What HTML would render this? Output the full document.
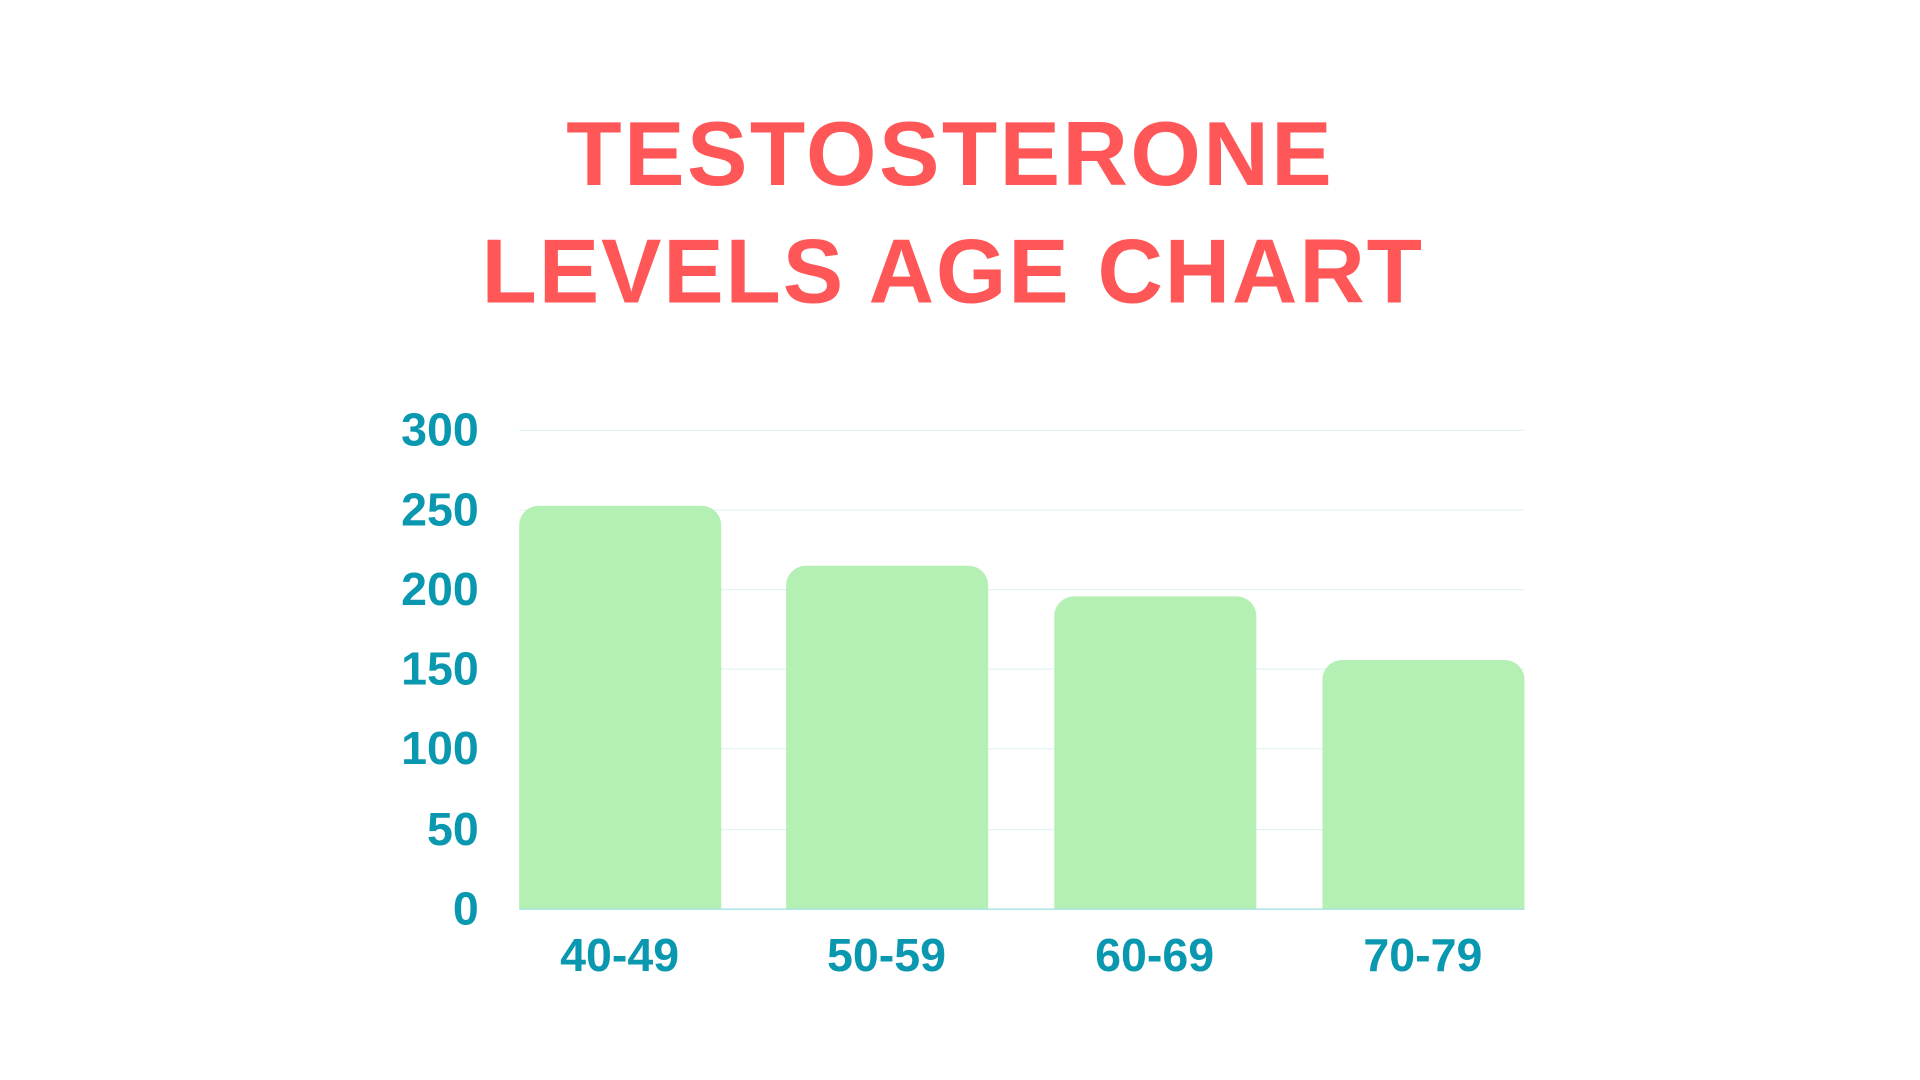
<!DOCTYPE html>
<html><head><meta charset="utf-8"><style>
html,body{margin:0;padding:0;background:#fff;width:1920px;height:1080px;overflow:hidden}
#s{position:absolute;left:0;top:0;width:1568px;height:882px;transform:scale(1.22449);transform-origin:0 0;font-family:"Liberation Sans",sans-serif}
.t{position:absolute;left:-8px;width:1568px;text-align:center;color:#ff5757;font-weight:bold;font-size:74px;line-height:1;letter-spacing:2px}
.g{position:absolute;left:424px;width:821px;height:1px;background:#e3f3f3}
.bar{position:absolute;width:165px;background:#b4f0b4;border-radius:16px 16px 0 0}
.yl{position:absolute;left:260px;width:131px;text-align:right;color:#0a97b0;font-weight:bold;font-size:38px;line-height:1}
.xl{position:absolute;width:200px;text-align:center;color:#0a97b0;font-weight:bold;font-size:38px;line-height:1;top:762px}
</style></head><body><div id="s">
<div class="t" style="top:89px">TESTOSTERONE</div>
<div class="t" style="top:185px;letter-spacing:1.5px;left:-6px">LEVELS AGE CHART</div>
<div class="g" style="top:351px"></div>
<div class="g" style="top:416px"></div>
<div class="g" style="top:481px"></div>
<div class="g" style="top:546px"></div>
<div class="g" style="top:611px"></div>
<div class="g" style="top:677px"></div>
<div class="g" style="top:742px;background:#9adfe0"></div>
<div class="bar" style="left:424px;top:413px;height:329px"></div>
<div class="bar" style="left:642px;top:462px;height:280px"></div>
<div class="bar" style="left:861px;top:487px;height:255px"></div>
<div class="bar" style="left:1080px;top:539px;height:203px"></div>
<div class="yl" style="top:333px">300</div>
<div class="yl" style="top:398px">250</div>
<div class="yl" style="top:463px">200</div>
<div class="yl" style="top:528px">150</div>
<div class="yl" style="top:593px">100</div>
<div class="yl" style="top:659px">50</div>
<div class="yl" style="top:724px">0</div>
<div class="xl" style="left:406px">40-49</div>
<div class="xl" style="left:624px">50-59</div>
<div class="xl" style="left:843px">60-69</div>
<div class="xl" style="left:1062px">70-79</div>
</div></body></html>
